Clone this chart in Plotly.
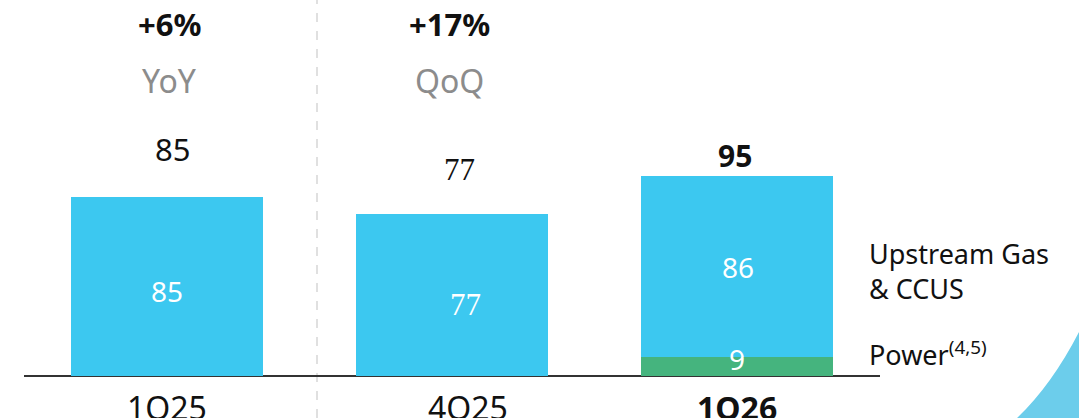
import plotly.graph_objects as go

W, H = 1079, 418

# Quarterly volumes by segment
quarters = ["1Q25", "4Q25", "1Q26"]
power = [0, 0, 9]
upstream = [85, 77, 86]
totals = [85, 77, 95]
growth = ["+6%", "+17%"]
growth_basis = ["YoY", "QoQ"]

SANS = "Noto Sans"
SERIF = "'Liberation Serif', serif"
CYAN = "#3cc8f0"
GREEN = "#45b47e"


def px(x):
    return x / W


def py(y):
    return (H - y) / H


fig = go.Figure()
fig.add_trace(go.Bar(x=quarters, y=power, marker=dict(color=GREEN, line=dict(width=0)),
                     hoverinfo="skip"))
fig.add_trace(go.Bar(x=quarters, y=upstream, marker=dict(color=CYAN, line=dict(width=0)),
                     hoverinfo="skip"))

ann = []

# totals above each bar
top_shift = [48, 44, 21]
top_xshift = [5, 7, -2]
top_font = [dict(family=SANS, size=31, color="#111"),
            dict(family=SERIF, size=31, color="#111"),
            dict(family=SANS, size=30, color="#111")]
for i, q in enumerate(quarters):
    txt = f"<b>{totals[i]}</b>" if i == 2 else str(totals[i])
    ann.append(dict(x=q, y=totals[i], xref="x", yref="y", text=txt, showarrow=False,
                    xanchor="center", yanchor="middle", yshift=top_shift[i],
                    xshift=top_xshift[i], font=top_font[i]))

# segment values inside bars
in_shift = [-4, -10, 0]
in_xshift = [0, 13, 1]
for i, q in enumerate(quarters):
    fnt = dict(family=SERIF if i == 1 else SANS, size=31 if i == 1 else 28, color="white")
    ann.append(dict(x=q, y=power[i] + upstream[i] / 2, xref="x", yref="y", text=str(upstream[i]),
                    showarrow=False, xanchor="center", yanchor="middle", yshift=in_shift[i],
                    xshift=in_xshift[i], font=fnt))
ann.append(dict(x=quarters[2], y=power[2] / 2, xref="x", yref="y", text=str(power[2]),
                showarrow=False, xanchor="center", yanchor="middle", yshift=8,
                font=dict(family=SANS, size=28, color="white")))

# category labels under the axis
cat_xshift = [0, 16, 0]
for i, q in enumerate(quarters):
    txt = f"<b>{q}</b>" if i == 2 else q
    ann.append(dict(x=q, y=0, xref="x", yref="y", text=txt, showarrow=False,
                    xanchor="center", yanchor="middle", yshift=-31, xshift=cat_xshift[i],
                    font=dict(family=SANS, size=32, color="#111")))

# growth headline
for xc, g, b in zip([169, 449], growth, growth_basis):
    ann.append(dict(x=px(xc), y=py(24), xref="paper", yref="paper", text=f"<b>{g}</b>",
                    showarrow=False, xanchor="center", yanchor="middle",
                    font=dict(family=SANS, size=31, color="#111")))
    ann.append(dict(x=px(xc), y=py(80), xref="paper", yref="paper", text=b,
                    showarrow=False, xanchor="center", yanchor="middle",
                    font=dict(family=SANS, size=32, color="#8c8c8c")))

# segment names on the right
ann.append(dict(x=px(867), y=py(271), xref="paper", yref="paper",
                text="Upstream Gas<br>& CCUS", showarrow=False, xanchor="left",
                yanchor="middle", align="left",
                font=dict(family=SANS, size=27, color="#111")))
ann.append(dict(x=px(867), y=py(353), xref="paper", yref="paper",
                text="Power<sup>(4,5)</sup>", showarrow=False, xanchor="left",
                yanchor="middle", align="left",
                font=dict(family=SANS, size=27, color="#111")))

shapes = [
    dict(type="line", xref="paper", yref="paper", x0=px(317), x1=px(317), y0=0, y1=1,
         line=dict(color="#d6d6d6", width=1.5, dash="dash"), layer="below"),
    dict(type="path", xref="paper", yref="paper",
         path=f"M {px(1016)} {py(419)} Q {px(1052)} {py(385)} {px(1080)} {py(330)} "
              f"L {px(1080)} {py(419)} Z",
         fillcolor="#6ccdeb", line=dict(width=0)),
]

fig.update_layout(
    width=W, height=H, margin=dict(l=0, r=0, t=0, b=0),
    paper_bgcolor="white", plot_bgcolor="white",
    barmode="stack", bargap=0.327, showlegend=False,
    xaxis=dict(domain=[px(24.4), px(880)], range=[-0.5, 2.5], showticklabels=False,
               showgrid=False, zeroline=False, showline=False, fixedrange=True),
    yaxis=dict(domain=[py(376), 1], range=[0, 178.6], showticklabels=False,
               showgrid=False, zeroline=True, zerolinecolor="#333", zerolinewidth=2,
               fixedrange=True),
    annotations=ann, shapes=shapes,
)

fig.write_html("out.html")
